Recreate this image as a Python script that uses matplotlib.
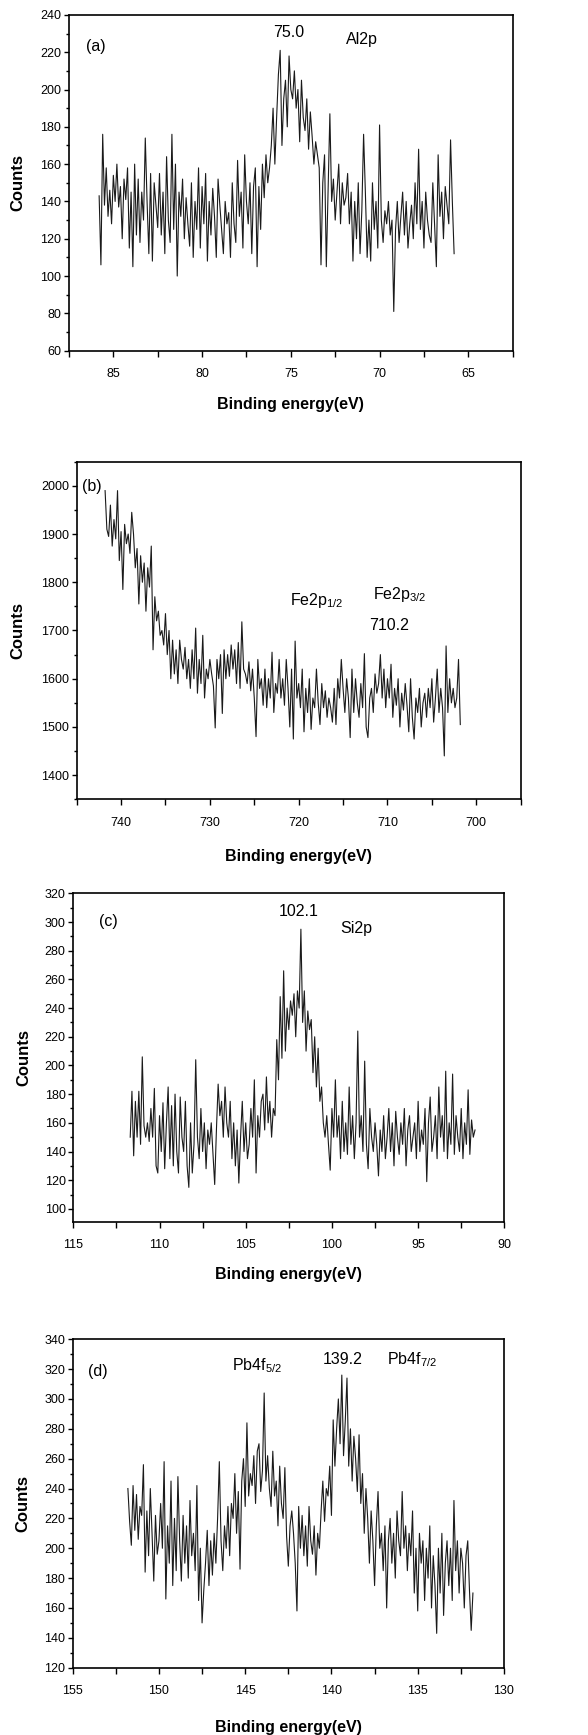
import numpy as np
import matplotlib
matplotlib.use('Agg')
import matplotlib.pyplot as plt
from matplotlib.ticker import MultipleLocator

plt.rcParams['font.family'] = ['Liberation Sans', 'DejaVu Sans']
plt.rcParams['mathtext.fontset'] = 'custom'
plt.rcParams['mathtext.rm'] = 'Liberation Sans'

# (a) Al2p, 85.8 -> 65.8 eV, step 0.1
al_start, al_step = 85.8, -0.1
al_counts = [
    143, 106, 176, 138, 158, 132, 146, 128, 154, 140,
    160, 137, 148, 120, 152, 141, 158, 115, 145, 105,
    160, 122, 152, 118, 145, 130, 174, 140, 112, 155,
    108, 150, 138, 126, 155, 122, 145, 112, 164, 130,
    118, 176, 125, 160, 100, 145, 132, 152, 120, 142,
    128, 116, 150, 110, 140, 125, 158, 115, 148, 128,
    155, 108, 140, 122, 147, 132, 110, 152, 138, 125,
    112, 140, 128, 134, 110, 150, 128, 118, 162, 132,
    145, 115, 165, 140, 128, 150, 112, 148, 158, 105,
    148, 125, 160, 142, 165, 150, 158, 170, 190, 160,
    185, 208, 221, 170, 195, 205, 180, 218, 200, 195,
    210, 190, 200, 172, 205, 185, 178, 195, 168, 188,
    175, 160, 172, 165, 158, 106, 150, 165, 105, 145,
    187, 140, 152, 130, 145, 160, 128, 150, 138, 142,
    155, 128, 145, 108, 140, 120, 150, 112, 135, 176,
    145, 110, 130, 108, 150, 125, 140, 115, 181, 130,
    118, 135, 128, 140, 122, 130, 81, 125, 140, 118,
    132, 145, 122, 140, 115, 128, 138, 120, 150, 128,
    168, 125, 140, 115, 145, 130, 122, 118, 150, 128,
    105, 165, 132, 145, 120, 148, 138, 128, 173, 140,
    112]

# (b) Fe2p, 741.8 -> 701.8 eV, step 0.2
fe_start, fe_step = 741.8, -0.2
fe_counts = [
    1990, 1910, 1895, 1960, 1875, 1930, 1890, 1990, 1845, 1905,
    1785, 1920, 1880, 1900, 1860, 1945, 1900, 1830, 1870, 1755,
    1855, 1800, 1840, 1740, 1830, 1790, 1875, 1660, 1770, 1720,
    1740, 1690, 1700, 1670, 1735, 1650, 1700, 1600, 1680, 1610,
    1660, 1590, 1680, 1640, 1620, 1665, 1600, 1640, 1580, 1660,
    1600, 1705, 1570, 1640, 1590, 1690, 1560, 1620, 1600, 1640,
    1610, 1585, 1498, 1640, 1600, 1650, 1528, 1660, 1600, 1650,
    1605, 1670, 1620, 1660, 1590, 1675, 1580, 1718, 1620, 1610,
    1590, 1635, 1575, 1620, 1560, 1480, 1640, 1580, 1600, 1545,
    1620, 1540, 1600, 1560, 1655, 1530, 1590, 1570, 1640, 1560,
    1600, 1545, 1640, 1580, 1500, 1620, 1475, 1678, 1560, 1590,
    1540, 1620, 1490, 1580, 1530, 1600, 1495, 1560, 1540, 1620,
    1550, 1505, 1590, 1540, 1575, 1520, 1560, 1540, 1510, 1580,
    1505, 1600, 1560, 1640, 1580, 1530, 1600, 1560, 1478, 1620,
    1530, 1600, 1550, 1520, 1590, 1540, 1652, 1500, 1478, 1560,
    1580, 1530, 1610, 1570, 1590, 1650, 1560, 1620, 1540, 1600,
    1560, 1630, 1520, 1580, 1545, 1600, 1500, 1570, 1535, 1590,
    1545, 1490, 1600, 1520, 1475, 1560, 1530, 1580, 1500, 1550,
    1570, 1520, 1580, 1540, 1600, 1510, 1560, 1620, 1530, 1580,
    1540, 1440, 1668, 1530, 1600, 1550, 1580, 1540, 1560, 1640,
    1505]

# (c) Si2p, 111.7 -> 91.7 eV, step 0.1
si_start, si_step = 111.7, -0.1
si_counts = [
    150, 182, 137, 175, 150, 182, 145, 206, 158, 150,
    160, 147, 170, 150, 184, 130, 125, 165, 140, 174,
    128, 160, 185, 135, 172, 130, 180, 140, 125, 178,
    150, 140, 175, 130, 115, 160, 125, 145, 204, 150,
    135, 170, 140, 160, 128, 155, 145, 160, 138, 117,
    155, 187, 165, 175, 150, 185, 160, 150, 175, 135,
    160, 130, 155, 118, 150, 175, 140, 160, 135, 145,
    170, 150, 190, 125, 165, 150, 175, 180, 155, 192,
    160, 175, 150, 170, 165, 218, 190, 248, 205, 266,
    210, 240, 225, 245, 235, 250, 220, 252, 240, 295,
    230, 252, 210, 238, 225, 232, 195, 220, 185, 212,
    175, 185, 160, 150, 165, 145, 127, 170, 150, 190,
    150, 165, 135, 175, 140, 160, 138, 185, 145, 165,
    135, 160, 224, 150, 165, 140, 203, 145, 128, 170,
    150, 140, 160, 145, 123, 155, 140, 165, 135, 150,
    170, 140, 160, 130, 168, 150, 138, 160, 145, 170,
    130, 155, 165, 140, 150, 160, 135, 175, 140, 155,
    145, 170, 119, 160, 178, 140, 150, 165, 135, 185,
    150, 165, 140, 196, 135, 160, 145, 194, 138, 165,
    150, 140, 170, 135, 160, 145, 183, 138, 162, 150,
    155]

# (d) Pb4f, 151.8 -> 131.8 eV, step 0.1
pb_start, pb_step = 151.8, -0.1
pb_counts = [
    240, 218, 202, 242, 212, 236, 206, 228, 222, 256,
    184, 225, 195, 240, 210, 178, 222, 196, 205, 230,
    200, 258, 166, 215, 190, 245, 175, 220, 185, 248,
    205, 178, 222, 190, 215, 180, 232, 195, 210, 185,
    242, 165, 200, 150, 172, 190, 212, 175, 205, 182,
    210, 190, 220, 258, 205, 185, 215, 200, 228, 195,
    230, 220, 250, 210, 238, 186, 245, 260, 228, 284,
    235, 250, 242, 262, 230, 265, 270, 238, 252, 304,
    245, 262, 240, 228, 265, 235, 245, 215, 255, 230,
    220, 254, 208, 188, 215, 225, 210, 190, 158, 228,
    200, 222, 195, 215, 188, 228, 205, 196, 215, 182,
    210, 200, 225, 245, 218, 240, 235, 255, 222, 286,
    255, 280, 300, 270, 316, 262, 285, 314, 255, 280,
    245, 275, 260, 238, 276, 230, 250, 210, 240, 220,
    190, 225, 205, 175, 215, 238, 200, 210, 185, 215,
    160, 205, 220, 190, 210, 180, 225, 205, 195, 238,
    200, 215, 185, 210, 195, 225, 170, 200, 158, 210,
    190, 205, 165, 200, 180, 215, 160, 195, 175, 143,
    200, 170, 210, 155, 190, 205, 175, 200, 165, 232,
    185, 205, 170, 200, 190, 160, 195, 205, 172, 145,
    170]


def energies(start, step, n):
    return start + step * np.arange(n)


fig = plt.figure(figsize=(5.88, 17.35), dpi=100)

# axes rectangles in figure fraction, plus label positions in axes coords
rects = [
    [0.1173, 0.7979, 0.7546, 0.1935],
    [0.1304, 0.5393, 0.7551, 0.1946],
    [0.1247, 0.2958, 0.7330, 0.1893],
    [0.1236, 0.0388, 0.7335, 0.1893],
]
ylab_x = [-0.099, -0.116, -0.098, -0.097]
xlab_y = [-0.138, -0.147, -0.138, -0.158]

panels = [
    (al_start, al_step, al_counts, (87.5, 62.5), (60, 240), 5, 2.5, 20, 10),
    (fe_start, fe_step, fe_counts, (745, 695), (1350, 2050), 10, 5, 100, 50),
    (si_start, si_step, si_counts, (115, 90), (91, 320), 5, 2.5, 20, 10),
    (pb_start, pb_step, pb_counts, (155, 130), (120, 340), 5, 2.5, 20, 10),
]

axes = []
for k, (rect, (st, sp, cts, xl, yl, xmaj, xmin, ymaj, ymin)) in enumerate(zip(rects, panels)):
    ax = fig.add_axes(rect)
    x = energies(st, sp, len(cts))
    ax.plot(x, cts, color='#1a1a1a', lw=0.8)
    ax.set_xlim(*xl)
    ax.set_ylim(*yl)
    ax.xaxis.set_major_locator(MultipleLocator(xmaj))
    ax.xaxis.set_minor_locator(MultipleLocator(xmin))
    ax.yaxis.set_major_locator(MultipleLocator(ymaj))
    ax.yaxis.set_minor_locator(MultipleLocator(ymin))
    ax.tick_params(which='both', direction='out', top=False, right=False,
                   labelsize=9, width=1.0)
    ax.tick_params(axis='x', which='both', length=4.5, pad=8)
    ax.tick_params(axis='y', which='major', length=3.5, pad=2)
    ax.tick_params(axis='y', which='minor', length=2)
    for s in ax.spines.values():
        s.set_linewidth(1.2)
    ax.set_xlabel('Binding energy(eV)', fontsize=11.5, fontweight='bold')
    ax.set_ylabel('Counts', fontsize=12, fontweight='bold')
    ax.xaxis.set_label_coords(0.5, xlab_y[k])
    ax.yaxis.set_label_coords(ylab_x[k], 0.5)
    axes.append(ax)

fs = 11.5
a, b, c, d = axes
a.text(0.060, 0.906, '(a)', transform=a.transAxes, ha='center', va='center', fontsize=fs)
a.text(0.495, 0.947, '75.0', transform=a.transAxes, ha='center', va='center', fontsize=fs)
a.text(0.660, 0.926, 'Al2p', transform=a.transAxes, ha='center', va='center', fontsize=fs)

b.text(0.033, 0.926, '(b)', transform=b.transAxes, ha='center', va='center', fontsize=fs)
b.text(0.480, 0.590, r'Fe2p$_{\mathrm{1/2}}$', transform=b.transAxes, ha='left', va='center', fontsize=fs)
b.text(0.667, 0.608, r'Fe2p$_{\mathrm{3/2}}$', transform=b.transAxes, ha='left', va='center', fontsize=fs)
b.text(0.704, 0.516, '710.2', transform=b.transAxes, ha='center', va='center', fontsize=fs)

c.text(0.082, 0.913, '(c)', transform=c.transAxes, ha='center', va='center', fontsize=fs)
c.text(0.524, 0.944, '102.1', transform=c.transAxes, ha='center', va='center', fontsize=fs)
c.text(0.656, 0.893, 'Si2p', transform=c.transAxes, ha='center', va='center', fontsize=fs)

d.text(0.058, 0.903, '(d)', transform=d.transAxes, ha='center', va='center', fontsize=fs)
d.text(0.370, 0.919, r'Pb4f$_{\mathrm{5/2}}$', transform=d.transAxes, ha='left', va='center', fontsize=fs)
d.text(0.625, 0.939, '139.2', transform=d.transAxes, ha='center', va='center', fontsize=fs)
d.text(0.728, 0.939, r'Pb4f$_{\mathrm{7/2}}$', transform=d.transAxes, ha='left', va='center', fontsize=fs)

fig.savefig('out.png', dpi=100, facecolor='white')
